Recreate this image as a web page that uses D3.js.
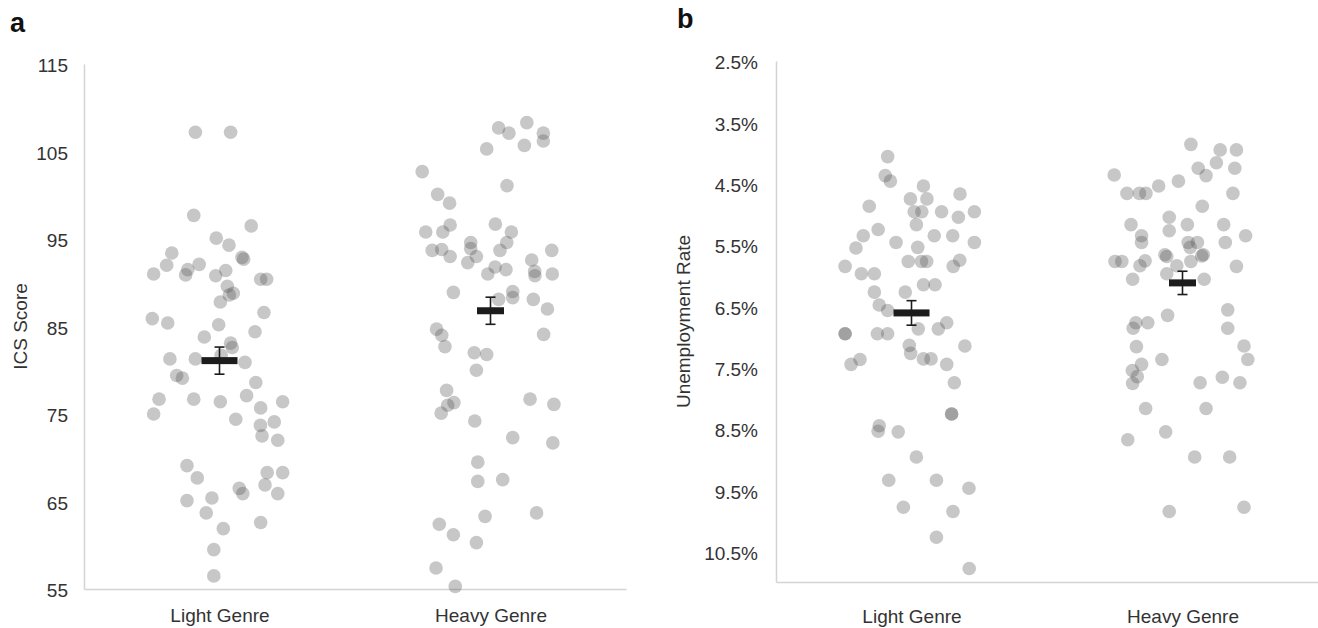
<!DOCTYPE html>
<meta charset="utf-8">
<style>

  body { margin: 0; background: #fff; }
  svg { font-family: Arial, "Liberation Sans", sans-serif; }

  .dots circle {
    fill: #555;
    fill-opacity: 0.33;
  }

  .axis path {
    stroke: #d4d4d4;
    stroke-width: 1.5px;
  }

  .axis text {
    fill: #333;
    font-size: 19px;
  }

  .mean rect { fill: #1c1c1c; }
  .mean line { stroke: #1c1c1c; stroke-width: 1.6px; }

</style>
<svg width="1318" height="628"></svg>
<script src="https://cdn.jsdelivr.net/npm/d3@7/dist/d3.min.js"></script>
<script>

  var categories = ["Light Genre", "Heavy Genre"];

  // panel a : ICS score
  var icsTicks = [55, 65, 75, 85, 95, 105, 115];
  var icsLight = [107.2, 107.2, 97.7, 96.5, 95.1, 94.3, 93.4, 92.9, 92.7, 92.0, 92.1, 91.5, 90.9, 91.0, 91.4, 90.8,
    90.4, 90.4, 89.6, 88.8, 88.6, 87.8, 85.9, 85.4, 86.6, 85.2, 84.4, 83.8, 83.1, 82.6, 81.3, 81.3, 81.7, 80.9,
    79.4, 79.1, 78.6, 76.7, 75.0, 76.7, 76.4, 77.1, 75.7, 76.4, 74.4, 73.7, 74.1, 72.5, 72.0, 69.1, 67.7, 68.3,
    68.3, 66.5, 65.9, 66.9, 65.9, 65.1, 65.4, 63.7, 61.9, 62.6, 59.5, 56.5];
  // horizontal jitter, in category units
  var icsLightJitter = [-0.089, 0.041, -0.095, 0.117, -0.012, 0.035, -0.176, 0.083, 0.089, -0.195, -0.075, -0.117,
    -0.125, -0.243, 0.023, -0.014, 0.152, 0.174, 0.029, 0.051, 0.036, 0.003, -0.248, -0.191, 0.164, -0.003, 0.131,
    -0.056, 0.041, 0.047, -0.183, -0.089, 0.006, 0.094, -0.158, -0.137, 0.134, -0.223, -0.243, -0.095, 0.003, 0.100,
    0.152, 0.233, 0.060, 0.151, 0.202, 0.157, 0.215, -0.120, -0.082, 0.176, 0.233, 0.073, 0.086, 0.168, 0.215,
    -0.120, -0.028, -0.049, 0.014, 0.152, -0.021, -0.021];
  var icsHeavy = [108.3, 107.7, 107.1, 107.1, 106.2, 105.7, 105.3, 102.7, 101.1, 100.1, 99.1, 95.8, 95.8, 96.6, 96.7,
    95.8, 94.6, 93.7, 93.7, 93.8, 93.0, 94.6, 93.9, 93.0, 92.3, 91.8, 91.0, 91.5, 92.6, 91.3, 90.8, 93.7, 91.0, 88.9,
    89.0, 88.3, 88.1, 88.1, 87.0, 84.1, 84.7, 84.0, 82.7, 82.0, 81.8, 80.0, 77.7, 76.3, 76.0, 75.1, 76.7, 76.1, 74.2,
    72.3, 71.7, 69.5, 67.3, 67.5, 63.3, 63.7, 62.4, 61.2, 60.3, 57.4, 55.3];
  var icsHeavyJitter = [0.134, 0.030, 0.068, 0.195, 0.195, 0.125, -0.014, -0.252, 0.061, -0.195, -0.151, -0.239,
    -0.176, -0.149, 0.018, 0.077, 0.060, 0.035, -0.215, -0.180, -0.149, -0.073, -0.073, -0.052, -0.084, 0.017, -0.010,
    0.057, 0.152, 0.163, 0.164, 0.226, 0.228, -0.137, 0.082, 0.082, 0.030, 0.158, 0.210, 0.196, -0.199, -0.180,
    -0.168, -0.060, -0.014, -0.052, -0.162, -0.135, -0.158, -0.182, 0.146, 0.234, -0.058, 0.082, 0.230, -0.047,
    -0.047, 0.045, -0.020, 0.170, -0.189, -0.137, -0.052, -0.201, -0.130];
  var icsMeans = [81.1, 86.8];
  var icsErrors = [1.55, 1.55];

  // panel b : unemployment rate (%)
  var rateTicks = [2.5, 3.5, 4.5, 5.5, 6.5, 7.5, 8.5, 9.5, 10.5];
  var rateLight = [4.06, 4.37, 4.46, 4.54, 4.67, 4.87, 4.75, 4.75, 4.96, 4.96, 4.96, 5.05, 4.96, 5.17, 5.25, 5.35,
    5.46, 5.35, 5.35, 5.46, 5.55, 5.54, 5.85, 5.97, 5.97, 5.77, 5.77, 5.77, 5.75, 5.85, 6.15, 6.15, 6.27, 6.27, 6.48,
    6.57, 6.87, 6.87, 6.77, 6.95, 6.95, 6.95, 6.95, 7.15, 7.14, 7.27, 7.36, 7.36, 7.45, 7.45, 7.37, 7.75, 8.26, 8.26,
    8.45, 8.54, 8.55, 8.96, 9.34, 9.34, 9.47, 9.78, 9.85, 10.27, 10.78];
  var rateLightJitter = [-0.088, -0.097, -0.078, 0.044, 0.179, -0.156, -0.004, 0.057, 0.010, 0.038, 0.111, 0.173,
    0.232, 0.018, -0.123, -0.178, -0.057, 0.084, 0.152, 0.232, -0.205, 0.023, -0.245, -0.185, -0.137, -0.012, 0.037,
    0.056, 0.178, 0.154, 0.044, 0.087, -0.137, -0.023, -0.119, -0.088, 0.025, 0.099, 0.130, -0.245, -0.245, -0.126,
    -0.088, 0.197, -0.008, -0.003, 0.044, 0.072, 0.130, -0.223, -0.190, 0.158, 0.148, 0.148, -0.119, -0.123, -0.049,
    0.018, -0.084, 0.092, 0.212, -0.030, 0.153, 0.092, 0.213];
  var rateHeavy = [3.86, 3.95, 3.95, 4.16, 4.25, 4.37, 4.25, 4.36, 4.46, 4.54, 4.66, 4.66, 4.66, 4.66, 4.87, 5.05,
    5.17, 5.17, 5.17, 5.27, 5.35, 5.46, 5.35, 5.46, 5.46, 5.54, 5.46, 5.77, 5.77, 5.76, 5.84, 5.66, 5.69, 5.68, 5.66,
    5.77, 5.84, 5.97, 5.85, 6.06, 6.06, 6.56, 6.65, 6.86, 6.86, 6.77, 6.77, 7.16, 7.15, 7.37, 7.37, 7.45, 7.55, 7.65,
    7.76, 7.75, 7.66, 7.75, 8.17, 8.17, 8.68, 8.55, 8.96, 8.96, 9.85, 9.78];
  var rateHeavyJitter = [0.031, 0.139, 0.199, 0.125, 0.058, 0.087, 0.193, -0.252, -0.015, -0.088, -0.205, -0.159,
    -0.135, 0.186, 0.073, -0.049, -0.190, 0.018, 0.152, -0.049, -0.151, -0.151, 0.233, 0.021, 0.055, 0.028, 0.158,
    -0.249, -0.224, -0.138, -0.157, -0.065, -0.058, 0.071, 0.077, 0.031, -0.021, -0.058, 0.199, -0.184, 0.080, 0.167,
    -0.055, 0.167, -0.182, -0.172, -0.128, -0.170, 0.227, 0.241, -0.076, -0.151, -0.185, -0.167, -0.184, 0.065,
    0.147, 0.212, -0.136, 0.087, -0.202, -0.062, 0.045, 0.174, -0.049, 0.227];
  var rateMeans = [6.61, 6.12];
  var rateErrors = [0.2, 0.19];

  var svg = d3.select("svg");

  function toPoints(values, jitter, cat) {
    return values.map(function (v, i) { return {x: cat + jitter[i], y: v}; });
  }

  function drawPanel(p) {
    var x = d3.scaleLinear().domain([0.5, 2.5]).range([p.left, p.right]);
    var y = d3.scaleLinear().domain(p.yDomain).range([p.bottom, p.top]);
    var g = svg.append("g");

    var yAxis = g.append("g")
          .attr("class", "axis")
          .attr("transform", "translate(" + p.left + ",0)")
          .call(d3.axisLeft(y).tickValues(p.ticks).tickFormat(p.format)
                .tickSizeInner(0).tickSizeOuter(0).tickPadding(p.tickPad));
    yAxis.selectAll("text").attr("dy", "0.42em");

    g.append("g")
          .attr("class", "axis")
          .attr("transform", "translate(0," + p.bottom + ")")
          .call(d3.axisBottom(x).tickValues([1, 2]).tickFormat(function (d) { return categories[d - 1]; })
                .tickSizeInner(0).tickSizeOuter(0).tickPadding(p.catPad));

    g.append("text")
          .attr("transform", "translate(" + p.titleX + "," + (p.top + p.bottom) / 2 + ") rotate(-90)")
          .attr("text-anchor", "middle")
          .attr("fill", "#333")
          .style("font-size", "19px")
          .text(p.title);

    g.append("text")
          .attr("x", p.letterX).attr("y", p.letterY)
          .attr("fill", "#111")
          .style("font-size", "27px").style("font-weight", "bold")
          .text(p.letter);

    var pts = toPoints(p.light, p.lightJitter, 1).concat(toPoints(p.heavy, p.heavyJitter, 2));
    g.append("g").attr("class", "dots")
          .selectAll("circle")
          .data(pts)
          .enter().append("circle")
          .attr("r", 6.8)
          .attr("cx", function (d) { return x(d.x); })
          .attr("cy", function (d) { return y(d.y); });

    // mean markers with error bars
    var means = p.means.map(function (m, i) { return {cat: i + 1, m: m, e: p.errors[i], w: i === 0 ? 36 : 27}; });
    var mg = g.selectAll(".mean").data(means).enter().append("g").attr("class", "mean");
    mg.append("rect")
          .attr("x", function (d) { return x(d.cat) - d.w / 2; })
          .attr("y", function (d) { return y(d.m) - 3.5; })
          .attr("width", function (d) { return d.w; })
          .attr("height", 7);
    mg.append("line")
          .attr("x1", function (d) { return x(d.cat); }).attr("x2", function (d) { return x(d.cat); })
          .attr("y1", function (d) { return y(d.m - d.e); }).attr("y2", function (d) { return y(d.m + d.e); });
    [-1, 1].forEach(function (s) {
      mg.append("line")
            .attr("x1", function (d) { return x(d.cat) - 5; }).attr("x2", function (d) { return x(d.cat) + 5; })
            .attr("y1", function (d) { return y(d.m + s * d.e); }).attr("y2", function (d) { return y(d.m + s * d.e); });
    });
  }

  drawPanel({
    left: 84, right: 626, top: 64, bottom: 589,
    yDomain: [55, 115], ticks: icsTicks, format: d3.format("d"), tickPad: 16, catPad: 20,
    title: "ICS Score", titleX: 27, letter: "a", letterX: 10, letterY: 32,
    light: icsLight, lightJitter: icsLightJitter, heavy: icsHeavy, heavyJitter: icsHeavyJitter,
    means: icsMeans, errors: icsErrors
  });

  drawPanel({
    left: 776, right: 1318, top: 61, bottom: 582,
    yDomain: [11, 2.5], ticks: rateTicks, format: function (d) { return d3.format(".1f")(d) + "%"; },
    tickPad: 18, catPad: 28,
    title: "Unemployment Rate", titleX: 690, letter: "b", letterX: 677, letterY: 28,
    light: rateLight, lightJitter: rateLightJitter, heavy: rateHeavy, heavyJitter: rateHeavyJitter,
    means: rateMeans, errors: rateErrors
  });

</script>
